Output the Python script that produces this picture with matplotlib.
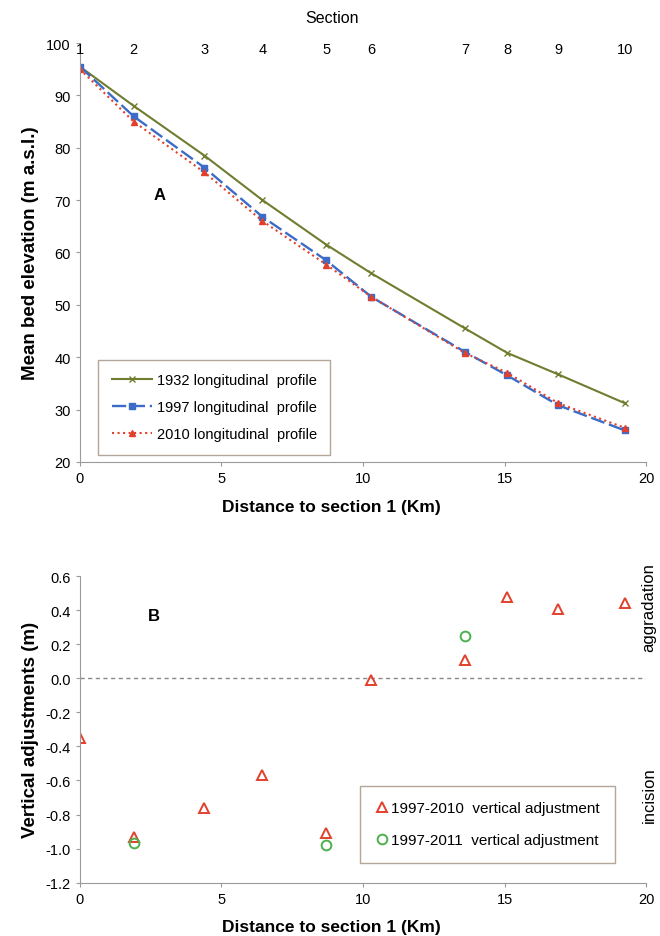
import matplotlib.pyplot as plt

plt.rcParams['font.family'] = ['Liberation Sans', 'DejaVu Sans']

# section positions (km from section 1)
dist = [0, 1.9, 4.4, 6.45, 8.7, 10.3, 13.6, 15.1, 16.9, 19.25]
sections = ['1', '2', '3', '4', '5', '6', '7', '8', '9', '10']

# mean bed elevation (m a.s.l.)
elev_1932 = [95.5, 88.0, 78.5, 70.0, 61.5, 56.0, 45.5, 40.8, 36.7, 31.2]
elev_1997 = [95.5, 86.0, 76.2, 66.8, 58.5, 51.5, 41.0, 36.5, 30.8, 26.0]
elev_2010 = [95.0, 85.0, 75.3, 66.0, 57.7, 51.5, 40.8, 37.0, 31.2, 26.5]

# vertical adjustments (m)
adj_2010 = [-0.35, -0.93, -0.76, -0.57, -0.91, -0.01, 0.11, 0.48, 0.41, 0.44]
dist_2011 = [1.9, 8.7, 13.6]
adj_2011 = [-0.97, -0.98, 0.25]

grey = '#9a9a9a'
c32 = '#6e7d2e'
c97 = '#3b6cc8'
c10 = '#e2402c'

fig = plt.figure(figsize=(6.6, 9.37), dpi=100)

# ---- panel A
ax1 = fig.add_axes([0.121, 0.506, 0.858, 0.447])
ax1.plot(dist, elev_1932, color=c32, marker='x', ms=5, lw=1.5, label='1932 longitudinal  profile')
ax1.plot(dist, elev_1997, color=c97, marker='s', ms=4, lw=1.7, ls=(0, (6, 2)), label='1997 longitudinal  profile')
ax1.plot(dist, elev_2010, color=c10, marker='^', ms=4, lw=1.5, ls=':', label='2010 longitudinal  profile')
ax1.set_xlim(0, 20)
ax1.set_ylim(20, 100)
ax1.set_xticks([0, 5, 10, 15, 20])
ax1.set_yticks(range(20, 101, 10))
ax1.set_xlabel('Distance to section 1 (Km)', fontsize=12.5, fontweight='bold')
ax1.xaxis.set_label_coords(0.445, -0.088)
ax1.set_ylabel('Mean bed elevation (m a.s.l.)', fontsize=13.5, fontweight='bold', labelpad=5)
ax1.text(2.6, 71, 'A', fontsize=12, fontweight='bold', va='center')
leg1 = ax1.legend(loc='lower left', bbox_to_anchor=(0.02, 0.0), fontsize=10.5, frameon=True,
                  fancybox=False, borderpad=0.9, labelspacing=0.9, handlelength=2.8,
                  handletextpad=0.3)
leg1.get_frame().set_edgecolor('#a09080')
leg1.get_frame().set_linewidth(1.0)

# section numbers along the top
for d, s in zip(dist, sections):
    ax1.text(d, 98.9, s, ha='center', va='center', fontsize=10.5)
ax1.text(0.445, 1.06, 'Section', transform=ax1.transAxes, ha='center', va='center', fontsize=11.5)

# ---- panel B
ax2 = fig.add_axes([0.121, 0.057, 0.858, 0.327])
ax2.axhline(0, color='#888888', lw=1.0, ls=(0, (3, 2.5)))
ax2.plot(dist, adj_2010, ls='none', marker='^', ms=7, mfc='none', mec=c10, mew=1.4,
         label='1997-2010  vertical adjustment')
ax2.plot(dist_2011, adj_2011, ls='none', marker='o', ms=7, mfc='none', mec='#4cb04c', mew=1.4,
         label='1997-2011  vertical adjustment')
ax2.set_xlim(0, 20)
ax2.set_ylim(-1.2, 0.6)
ax2.set_xticks([0, 5, 10, 15, 20])
ax2.set_yticks([-1.2, -1.0, -0.8, -0.6, -0.4, -0.2, 0.0, 0.2, 0.4, 0.6])
ax2.yaxis.set_major_formatter(plt.FormatStrFormatter('%.1f'))
ax2.set_xlabel('Distance to section 1 (Km)', fontsize=12.5, fontweight='bold')
ax2.xaxis.set_label_coords(0.445, -0.12)
ax2.set_ylabel('Vertical adjustments (m)', fontsize=13.5, fontweight='bold', labelpad=5)
ax2.text(2.4, 0.37, 'B', fontsize=12, fontweight='bold', va='center')
ax2.text(1.005, 0.90, 'aggradation', transform=ax2.transAxes, rotation=90,
         ha='center', va='center', fontsize=12)
ax2.text(1.005, 0.29, 'incision', transform=ax2.transAxes, rotation=90,
         ha='center', va='center', fontsize=12)
leg2 = ax2.legend(loc='lower left', bbox_to_anchor=(0.482, 0.04), fontsize=11, frameon=True,
                  fancybox=False, borderpad=1.0, labelspacing=1.2, handlelength=0.8,
                  handletextpad=0.2)
leg2.get_frame().set_edgecolor('#a09080')
leg2.get_frame().set_linewidth(1.0)

for ax in (ax1, ax2):
    ax.spines['top'].set_visible(False)
    ax.spines['right'].set_visible(False)
    ax.spines['left'].set_color(grey)
    ax.spines['bottom'].set_color(grey)
    ax.tick_params(color=grey, labelsize=10.5, length=3)

fig.savefig('out.png', dpi=100)
